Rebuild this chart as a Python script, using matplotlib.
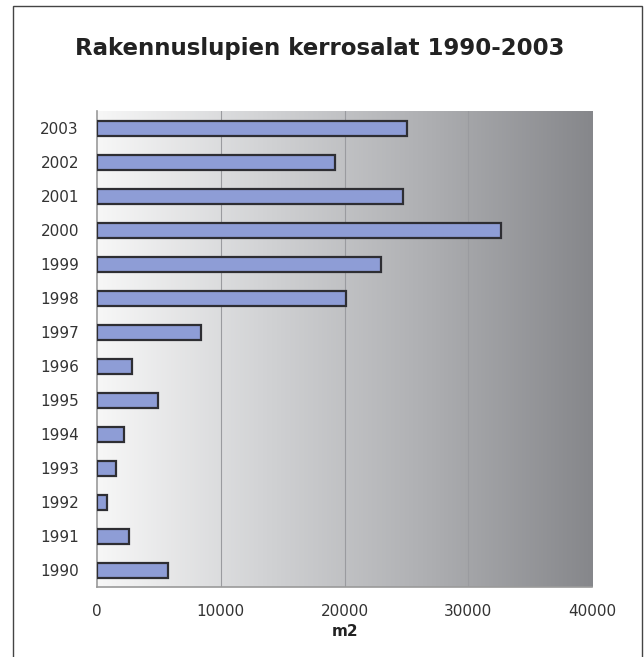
"""Rakennuslupien kerrosalat 1990-2003 — vaakapylväskaavio."""
import matplotlib
matplotlib.use("Agg")
import matplotlib.pyplot as plt
import numpy as np
from matplotlib.colors import LinearSegmentedColormap
from matplotlib.patches import Rectangle

years = ["1990", "1991", "1992", "1993", "1994", "1995", "1996",
         "1997", "1998", "1999", "2000", "2001", "2002", "2003"]
area_m2 = [5700, 2600, 800, 1500, 2200, 4900, 2800,
           8400, 20100, 22900, 32600, 24700, 19200, 25000]
xticks = [0, 10000, 20000, 30000, 40000]

plt.rcParams["font.family"] = ["DejaVu Sans"]

fig = plt.figure(figsize=(6.44, 6.57), dpi=100)
ax = fig.add_axes([0.1506, 0.1065, 0.769, 0.7245])

# harmaa liukuväritausta vasemmalta oikealle
grad = LinearSegmentedColormap.from_list("bg", ["#f7f7f7", "#d2d3d5", "#aeafb2", "#86878b"])
ax.imshow(np.linspace(0, 1, 256)[None, :], cmap=grad, aspect="auto",
          extent=[0, 40000, -0.5, len(years) - 0.5], zorder=0)

for x in xticks[1:-1]:
    ax.axvline(x, color="#9a9b9f", lw=0.8, zorder=1)

y = np.arange(len(years))
ax.barh(y, area_m2, height=0.44, color="#8e9dd6", edgecolor="#2e2e33",
        linewidth=1.6, zorder=3)

ax.set_xlim(0, 40000)
ax.set_ylim(-0.5, len(years) - 0.5)
ax.set_yticks(y)
ax.set_yticklabels(years, fontsize=11, color="#333333")
ax.set_xticks(xticks)
ax.set_xticklabels([str(v) for v in xticks], fontsize=11, color="#333333")
ax.tick_params(axis="x", length=0, pad=12)
ax.tick_params(axis="y", length=0, pad=13)
ax.set_xlabel("m2", fontsize=11, fontweight="bold", color="#222222", labelpad=4)

for side in ["top", "right"]:
    ax.spines[side].set_visible(False)
ax.spines["left"].set_color("#9a9a9a")
ax.spines["bottom"].set_color("#9a9a9a")
ax.spines["left"].set_linewidth(1.2)
ax.spines["bottom"].set_linewidth(1.2)

fig.text(0.497, 0.926, "Rakennuslupien kerrosalat 1990-2003", ha="center", va="center",
         fontsize=16.5, fontweight="bold", color="#222222")

# kehys kuvan ympärillä (alareuna auki)
fig.add_artist(Rectangle((13 / 644, -0.01), (642 - 13) / 644, 1 - 6 / 657 + 0.01,
                         transform=fig.transFigure, fill=False,
                         edgecolor="#444444", lw=1.0))

plt.savefig("out.png", dpi=100)
